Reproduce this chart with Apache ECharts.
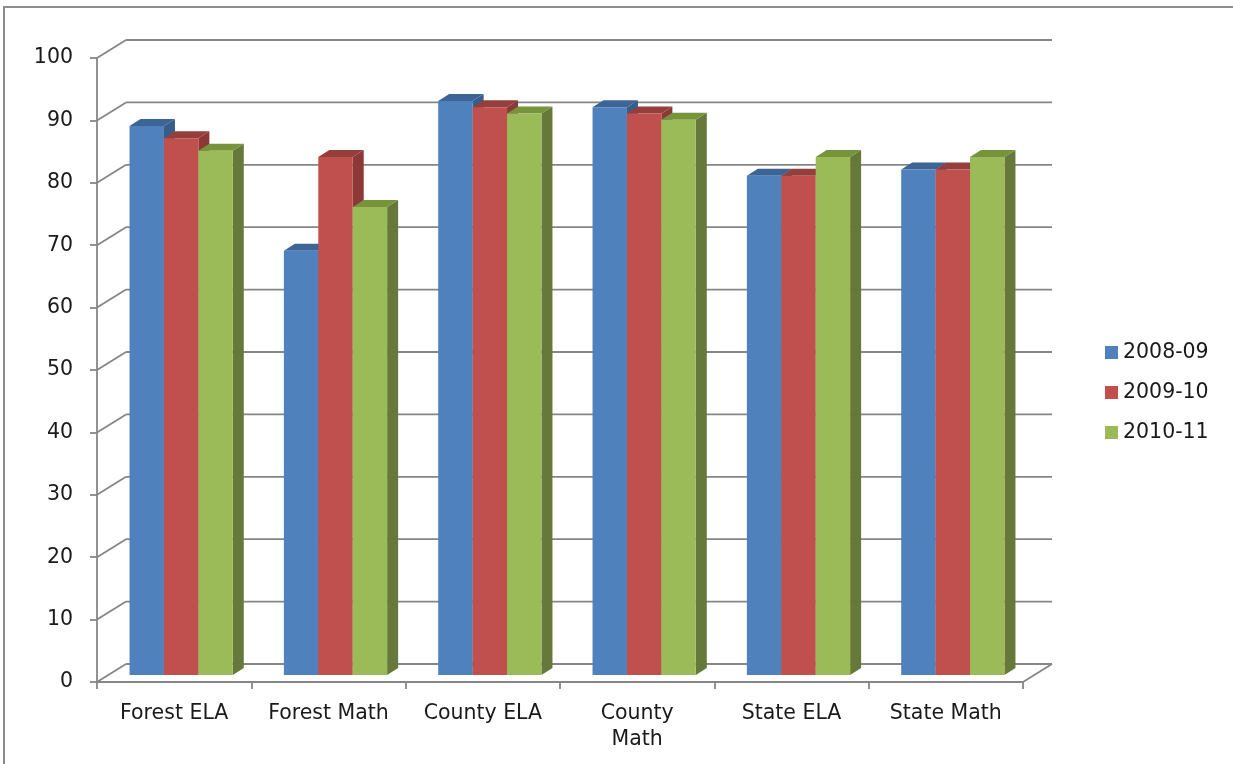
<!DOCTYPE html>
<html>
<head>
<meta charset="utf-8">
<script src="https://cdn.jsdelivr.net/npm/echarts@6/dist/echarts.min.js"></script>
<style>
  html, body { margin: 0; padding: 0; background: #fff; }
  #chart { width: 1233px; height: 764px; }
</style>
</head>
<body>
<div id="chart"></div>
<script>
// Test score percentages by group and school year
const categories = ['Forest ELA', 'Forest Math', 'County ELA', 'County Math', 'State ELA', 'State Math'];
const seriesNames = ['2008-09', '2009-10', '2010-11'];
const scores0809 = [88, 68, 92, 91, 80, 81];
const scores0910 = [86, 83, 91, 90, 80, 81];
const scores1011 = [84, 75, 90, 89, 83, 83];
const yTicks = [0, 10, 20, 30, 40, 50, 60, 70, 80, 90, 100];

const seriesValues = [scores0809, scores0910, scores1011];
const frontColors = ['#4F81BD', '#C0504D', '#9BBB59'];
const topColors = ['#3C6595', '#953F3C', '#77933C'];
const sideColors = ['#385D8A', '#8C3836', '#66793A'];

// depth of the back wall relative to the front plane (pixels)
const WALL_DX = 29, WALL_DY = 18;
// bar plane offset and bar depth
const BAR_SHIFT_X = 7, BAR_SHIFT_Y = 7;
const BAR_DX = 11, BAR_DY = 7;
const GRID_COLOR = '#868686';
const FONT = 'DejaVu Sans';
const FONT_SIZE = 20.5;
const TEXT_COLOR = '#1A1A1A';

const chart = echarts.init(document.getElementById('chart'));

function wallItem(params, api) {
  const v = api.value(1);
  const cs = params.coordSys;
  const y = api.coord([0, v])[1];
  const x0 = cs.x, x1 = cs.x + cs.width;
  const style = { stroke: GRID_COLOR, lineWidth: 1.8, fill: null };
  const children = [
    { type: 'line', shape: { x1: x0, y1: y, x2: x0 + WALL_DX, y2: y - WALL_DY }, style },
    { type: 'line', shape: { x1: x0 + WALL_DX, y1: y - WALL_DY, x2: x1 + WALL_DX, y2: y - WALL_DY }, style }
  ];
  if (v === 0) {
    children.push({ type: 'line', shape: { x1: x1, y1: y, x2: x1 + WALL_DX, y2: y - WALL_DY }, style });
  }
  return { type: 'group', children };
}

function barRenderer(k) {
  return function (params, api) {
    const i = api.value(0), v = api.value(1);
    const base = api.coord([i, 0]);
    const top = api.coord([i, v]);
    const band = api.size([1, 0])[0];
    const w = band * 0.223;
    const L = base[0] + BAR_SHIFT_X - 1.5 * w + k * w;
    const R = L + w;
    const B = base[1] - BAR_SHIFT_Y;
    const T = top[1] - BAR_SHIFT_Y;
    return {
      type: 'group',
      children: [
        { type: 'polygon', shape: { points: [[R, T], [R + BAR_DX, T - BAR_DY], [R + BAR_DX, B - BAR_DY], [R, B]] },
          style: { fill: sideColors[k] } },
        { type: 'polygon', shape: { points: [[L, T], [L + BAR_DX, T - BAR_DY], [R + BAR_DX, T - BAR_DY], [R, T]] },
          style: { fill: topColors[k] } },
        { type: 'rect', shape: { x: L, y: T, width: w, height: B - T },
          style: { fill: frontColors[k] } }
      ]
    };
  };
}

const series = [{
  type: 'custom',
  name: 'wall',
  silent: true,
  clip: false,
  z: 1,
  renderItem: wallItem,
  encode: { x: 0, y: 1 },
  data: yTicks.map(v => [0, v])
}];

seriesNames.forEach((name, k) => {
  series.push({
    type: 'custom',
    name: name,
    clip: false,
    z: 3,
    itemStyle: { color: frontColors[k] },
    renderItem: barRenderer(k),
    encode: { x: 0, y: 1 },
    data: seriesValues[k].map((v, i) => [i, v])
  });
});

chart.setOption({
  animation: false,
  backgroundColor: '#ffffff',
  graphic: [{
    type: 'rect',
    shape: { x: 4, y: 7, width: 1400, height: 900 },
    style: { fill: null, stroke: '#8C8C8C', lineWidth: 2 },
    silent: true,
    z: 0
  }],
  grid: { left: 97, right: 210, top: 58, bottom: 82, containLabel: false },
  legend: {
    data: seriesNames,
    orient: 'vertical',
    left: 1100,
    top: 337,
    icon: 'rect',
    itemWidth: 13,
    itemHeight: 13,
    itemGap: 19,
    textStyle: { fontFamily: FONT, fontSize: FONT_SIZE, color: TEXT_COLOR }
  },
  xAxis: {
    type: 'category',
    data: categories,
    boundaryGap: true,
    axisLine: { show: true, lineStyle: { color: GRID_COLOR, width: 1.8 } },
    axisTick: { show: true, interval: 0, length: 7, lineStyle: { color: GRID_COLOR, width: 1.8 } },
    axisLabel: {
      interval: 0,
      hideOverlap: false,
      margin: 19,
      fontFamily: FONT,
      fontSize: FONT_SIZE,
      color: TEXT_COLOR,
      lineHeight: 26,
      formatter: v => v === 'County Math' ? 'County\nMath' : v
    },
    splitLine: { show: false }
  },
  yAxis: {
    type: 'value',
    min: 0,
    max: 100,
    interval: 10,
    axisLine: { show: true, lineStyle: { color: GRID_COLOR, width: 1.8 } },
    axisTick: { show: true, length: 7, lineStyle: { color: GRID_COLOR, width: 1.8 } },
    axisLabel: { margin: 24, fontFamily: FONT, fontSize: FONT_SIZE, color: TEXT_COLOR },
    splitLine: { show: false }
  },
  series: series
});
</script>
</body>
</html>
